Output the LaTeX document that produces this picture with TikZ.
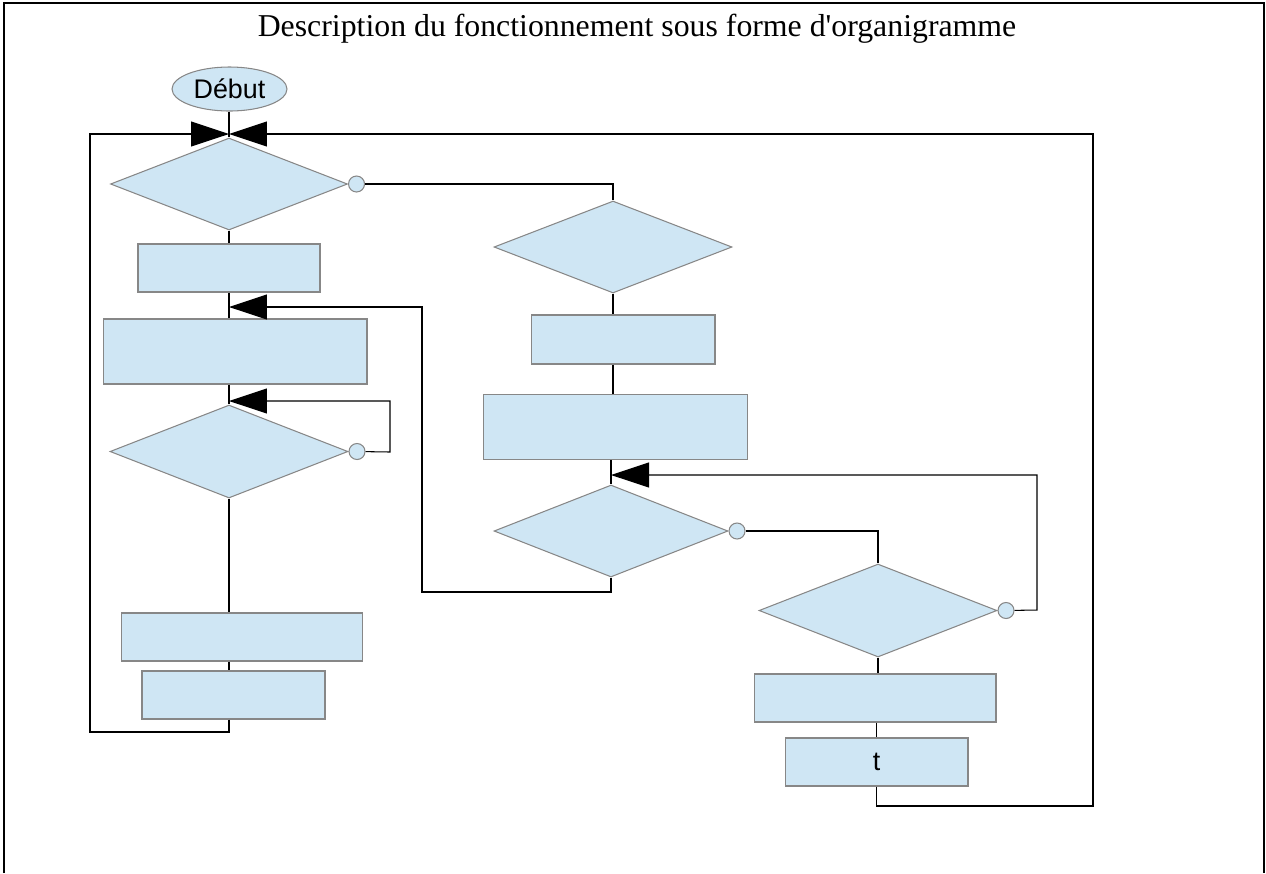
\documentclass[tikz,border=0pt]{standalone}
\usepackage{fontspec}
\setmainfont{Liberation Serif}
\setsansfont{Liberation Sans}
\usepackage{tikz}
\usetikzlibrary{arrows.meta, shapes.geometric, positioning}
\definecolor{boxblue}{RGB}{207,230,244}
\definecolor{boxline}{RGB}{135,135,135}

\begin{document}
\begin{tikzpicture}[x=0.02cm,y=-0.02cm,line width=0.6pt,
                    font=\sffamily\fontsize{15.3}{17}\selectfont]
  \tikzstyle{every node}=[inner sep=0pt]
  \tikzstyle{terminal}=[ellipse,fill=boxblue,draw=boxline,minimum width=2.3cm,minimum height=0.88cm]
  \tikzstyle{decision}=[diamond,fill=boxblue,draw=boxline,aspect=2.6]
  \tikzstyle{process}=[rectangle,fill=boxblue,draw=boxline]
  \tikzstyle{port}=[circle,fill=boxblue,draw=boxline,minimum size=0.32cm]
  \tikzstyle{link}=[draw=black]
  \tikzstyle{back}=[link,-{Triangle[length=0.76cm,width=0.5cm]}]
  \useasboundingbox (0,0) rectangle (1266,873);
  \draw[line width=0.8pt] (4,873) -- (4,3) -- (1264,3) -- (1264,873);
  \node (title) at (637,29) {\rmfamily\fontsize{18.1}{20}\selectfont Description du fonctionnement sous forme d\textquotesingle organigramme};

  % left column
  \node[terminal] (debut) at (229.5,89) {Début};
  \node[decision,minimum width=4.74cm,minimum height=1.84cm] (d1) at (229,184) {};
  \node[process,minimum width=3.64cm,minimum height=0.96cm]  (r1) at (229,268) {};
  \node[process,minimum width=5.28cm,minimum height=1.3cm]   (r2) at (235,351.5) {};
  \node[decision,minimum width=4.76cm,minimum height=1.86cm] (d2) at (229,451.5) {};
  \node[process,minimum width=4.82cm,minimum height=0.96cm]  (r3) at (242,637) {};
  \node[process,minimum width=3.66cm,minimum height=0.96cm]  (r4) at (233.5,695) {};
  \node[port,right=0pt of d1] (p1) {};
  \node[port,right=0pt of d2] (p2) {};

  % right column
  \node[decision,minimum width=4.76cm,minimum height=1.84cm] (d3) at (613,247) {};
  \node[process,minimum width=3.68cm,minimum height=0.98cm]  (r5) at (623,339.5) {};
  \node[process,minimum width=5.28cm,minimum height=1.3cm]   (r6) at (615.5,427) {};
  \node[decision,minimum width=4.68cm,minimum height=1.84cm] (d4) at (611,531) {};
  \node[decision,minimum width=4.76cm,minimum height=1.86cm] (d5) at (878,610.5) {};
  \node[process,minimum width=4.84cm,minimum height=0.96cm]  (r7) at (875,698) {};
  \node[process,minimum width=3.66cm,minimum height=0.96cm]  (r8) at (876.5,762) {t};
  \node[port,right=0pt of d4] (p4) {};
  \node[port,right=0pt of d5] (p5) {};

  % junctions and corners
  \coordinate (j1) at (229,134);
  \coordinate (j2) at (229,307);
  \coordinate (j3) at (229,401);
  \coordinate (j4) at (611,475);
  \coordinate (c1) at (90,732);
  \coordinate (c2) at (1093,806);
  \coordinate (c3) at (390,452);
  \coordinate (c4) at (422,592);
  \coordinate (c5) at (1037,610);

  % main flow
  \path[link] (debut.south -| j1) -- (d1)
              (d1) -- (d1 |- r1.north)
              (r1.south -| j2) -- (r2.north -| j2)
              (r2.south -| j3) -- (d2.north)
              (d2) -- (d2 |- r3.north)
              (r3.south -| j1) -- (r4.north -| j1)
              (p1) -| (d3.north)
              (d3) -- (d3 |- r5.north)
              (r5.south -| d3) -- (r6.north -| d3)
              (r6.south -| j4) -- (d4.north)
              (p4) -| (d5.north)
              (d5) -- (d5 |- r7.north)
              (r7.south -| r8) -- (r8.north);

  % loops back
  \draw[back] (r4.south -| j1) |- (c1) |- (j1);
  \draw[back] (r8.south) |- (c2) |- (j1);
  \draw[back] (p2) -- (c3) |- (j3);
  \draw[back] (d4.south) |- (c4) |- (j2);
  \draw[back] (p5) -- (c5) |- (j4);
\end{tikzpicture}
\end{document}
